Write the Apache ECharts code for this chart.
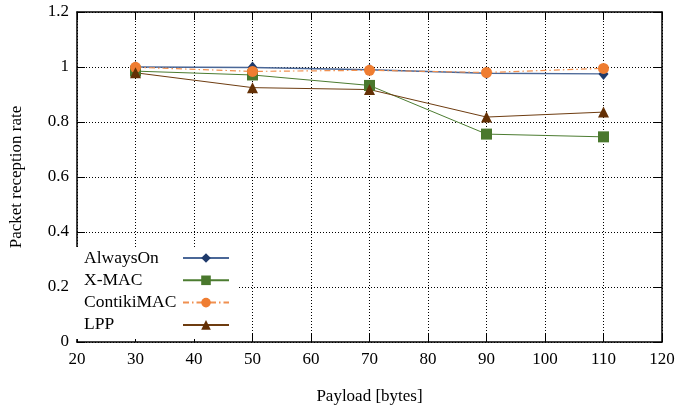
<!DOCTYPE html>
<html>
<head>
<meta charset="utf-8">
<script src="https://cdn.jsdelivr.net/npm/echarts@6/dist/echarts.min.js"></script>
<style>html,body{margin:0;padding:0;background:#fff}#c{width:679px;height:410px}</style>
</head>
<body>
<div id="c"></div>
<script>
var payload = [30, 50, 70, 90, 110];
var alwaysOn = [1.0, 0.998, 0.99, 0.977, 0.975];
var xmac = [0.985, 0.971, 0.933, 0.756, 0.746];
var contikiMAC = [0.999, 0.984, 0.988, 0.980, 0.995];
var lpp = [0.979, 0.925, 0.918, 0.818, 0.836];
var seriesNames = ['AlwaysOn', 'X-MAC', 'ContikiMAC', 'LPP'];

var FONT = '"Liberation Serif", "Times New Roman", serif';
function pairs(ys) { return payload.map(function (x, i) { return [x, ys[i]]; }); }

var chart = echarts.init(document.getElementById('c'), null, { renderer: 'canvas' });
var gridLine = { show: true, lineStyle: { color: '#000', type: [1, 2], width: 1 } };
chart.setOption({
  animation: false,
  backgroundColor: '#fff',
  textStyle: { fontFamily: FONT },
  grid: { left: 74, right: 17, top: 12, bottom: 68 },
  legend: {
    orient: 'vertical', align: 'right', left: 74, top: 247,
    padding: [2, 8, 5, 10], backgroundColor: '#fff',
    itemWidth: 46, itemHeight: 12, itemGap: 4.3,
    formatter: '{a|{name}}',
    textStyle: { rich: { a: { width: 94, align: 'left', fontSize: 17.5, lineHeight: 20, fontFamily: FONT, color: '#000' } } },
    data: seriesNames
  },
  xAxis: [{
    type: 'value', min: 20, max: 120, interval: 10,
    name: 'Payload [bytes]', nameLocation: 'middle', nameGap: 46,
    nameTextStyle: { fontSize: 17, fontFamily: FONT, color: '#000' },
    axisLine: { show: true, onZero: false, lineStyle: { color: '#000', width: 1.5 } },
    axisTick: { show: true, inside: true, length: 8, lineStyle: { color: '#000', width: 1 } },
    axisLabel: { fontSize: 17, fontFamily: FONT, color: '#000', margin: 9 },
    splitLine: gridLine
  }, {
    type: 'value', position: 'top', min: 20, max: 120, interval: 10,
    axisLine: { show: true, onZero: false, lineStyle: { color: '#000', width: 1.5 } },
    axisTick: { show: true, inside: true, length: 8, lineStyle: { color: '#000', width: 1 } },
    axisLabel: { show: false }, splitLine: { show: false }
  }],
  yAxis: [{
    type: 'value', min: 0, max: 1.2, interval: 0.2,
    name: 'Packet reception rate', nameLocation: 'middle', nameGap: 52, nameRotate: 90,
    nameTextStyle: { fontSize: 17, fontFamily: FONT, color: '#000' },
    axisLine: { show: true, onZero: false, lineStyle: { color: '#000', width: 1.5 } },
    axisTick: { show: true, inside: true, length: 8, lineStyle: { color: '#000', width: 1 } },
    axisLabel: { fontSize: 17, fontFamily: FONT, color: '#000', margin: 8,
      formatter: function (v) { return String(Math.round(v * 10) / 10); } },
    splitLine: gridLine
  }, {
    type: 'value', position: 'right', min: 0, max: 1.2, interval: 0.2,
    axisLine: { show: true, onZero: false, lineStyle: { color: '#000', width: 1.5 } },
    axisTick: { show: true, inside: true, length: 8, lineStyle: { color: '#000', width: 1 } },
    axisLabel: { show: false }, splitLine: { show: false }
  }],
  series: [{
    name: 'AlwaysOn', type: 'line', data: pairs(alwaysOn),
    symbol: 'diamond', symbolSize: [10, 12],
    lineStyle: { color: '#4a6797', width: 1.5 },
    itemStyle: { color: '#1f3a6b' }
  }, {
    name: 'X-MAC', type: 'line', data: pairs(xmac),
    symbol: 'rect', symbolSize: 11,
    lineStyle: { color: '#4c7c31', width: 1 },
    itemStyle: { color: '#4a782d' }
  }, {
    name: 'ContikiMAC', type: 'line', data: pairs(contikiMAC),
    symbol: 'circle', symbolSize: 11,
    lineStyle: { color: '#f09050', width: 1.2, type: [6, 3, 1.5, 3] },
    itemStyle: { color: '#ef7d31' }
  }, {
    name: 'LPP', type: 'line', data: pairs(lpp),
    symbol: 'triangle', symbolSize: 11,
    lineStyle: { color: '#6e3c10', width: 1 },
    itemStyle: { color: '#643005' }
  }]
});
</script>
</body>
</html>
